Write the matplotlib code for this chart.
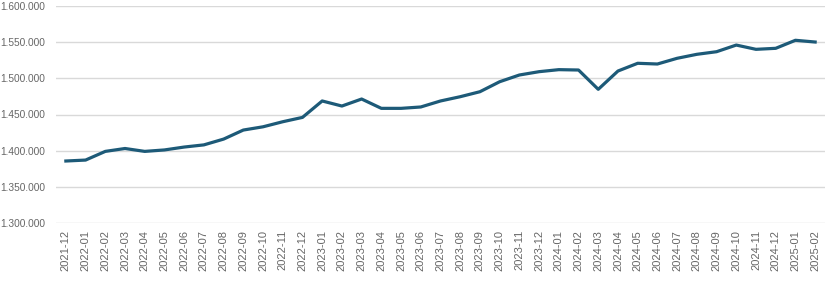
import matplotlib
matplotlib.use("Agg")
import matplotlib.pyplot as plt
from matplotlib.ticker import FuncFormatter
from matplotlib import font_manager

months = ["2021-12", "2022-01", "2022-02", "2022-03", "2022-04", "2022-05", "2022-06",
          "2022-07", "2022-08", "2022-09", "2022-10", "2022-11", "2022-12", "2023-01",
          "2023-02", "2023-03", "2023-04", "2023-05", "2023-06", "2023-07", "2023-08",
          "2023-09", "2023-10", "2023-11", "2023-12", "2024-01", "2024-02", "2024-03",
          "2024-04", "2024-05", "2024-06", "2024-07", "2024-08", "2024-09", "2024-10",
          "2024-11", "2024-12", "2025-01", "2025-02"]
values = [1385700, 1387000, 1399000, 1403000, 1399000, 1401000, 1405000,
          1408000, 1416000, 1428500, 1433000, 1440000, 1446000, 1468700,
          1461700, 1471400, 1458500, 1458500, 1460400, 1468700, 1474600,
          1481500, 1495300, 1504600, 1509200, 1512000, 1511500, 1484800,
          1510100, 1520800, 1519800, 1527700, 1533200, 1536800, 1546000,
          1540100, 1541500, 1552600, 1550200]
y_ticks = [1300000, 1350000, 1400000, 1450000, 1500000, 1550000, 1600000]

names = {f.name for f in font_manager.fontManager.ttflist}
ylab_family = 'Liberation Sans Narrow' if 'Liberation Sans Narrow' in names else 'Liberation Sans'
plt.rcParams['font.family'] = ['Liberation Sans', 'DejaVu Sans']

fig = plt.figure(figsize=(8.25, 2.82), dpi=100)
ax = fig.add_axes([56/825, 1 - 223/282, (825-56)/825, (223-6)/282])

x = list(range(len(months)))
ax.plot(x, values, color="#1d5a78", linewidth=2.3, solid_joinstyle="round", zorder=3)

ax.set_xlim(-0.5, len(months) - 0.5)
ax.set_ylim(y_ticks[0], y_ticks[-1])
ax.set_yticks(y_ticks)
ax.yaxis.set_major_formatter(FuncFormatter(lambda v, p: f"{int(v):,}".replace(",", ".")))
ax.set_xticks(x)
ax.set_xticklabels(months, rotation=90)

ax.grid(axis="y", color="#d9d9d9", linewidth=1)
ax.set_axisbelow(True)
for s in ax.spines.values():
    s.set_visible(False)
ax.tick_params(axis="both", length=0, labelsize=8, colors="#666666")
ax.tick_params(axis="y", pad=8)
ax.tick_params(axis="x", pad=5)
for t in ax.get_yticklabels():
    t.set_fontfamily(ylab_family)
    if ylab_family == 'Liberation Sans':
        t.set_fontsize(7.3)
    else:
        t.set_fontsize(8.5)

fig.savefig("out.png", dpi=100)
